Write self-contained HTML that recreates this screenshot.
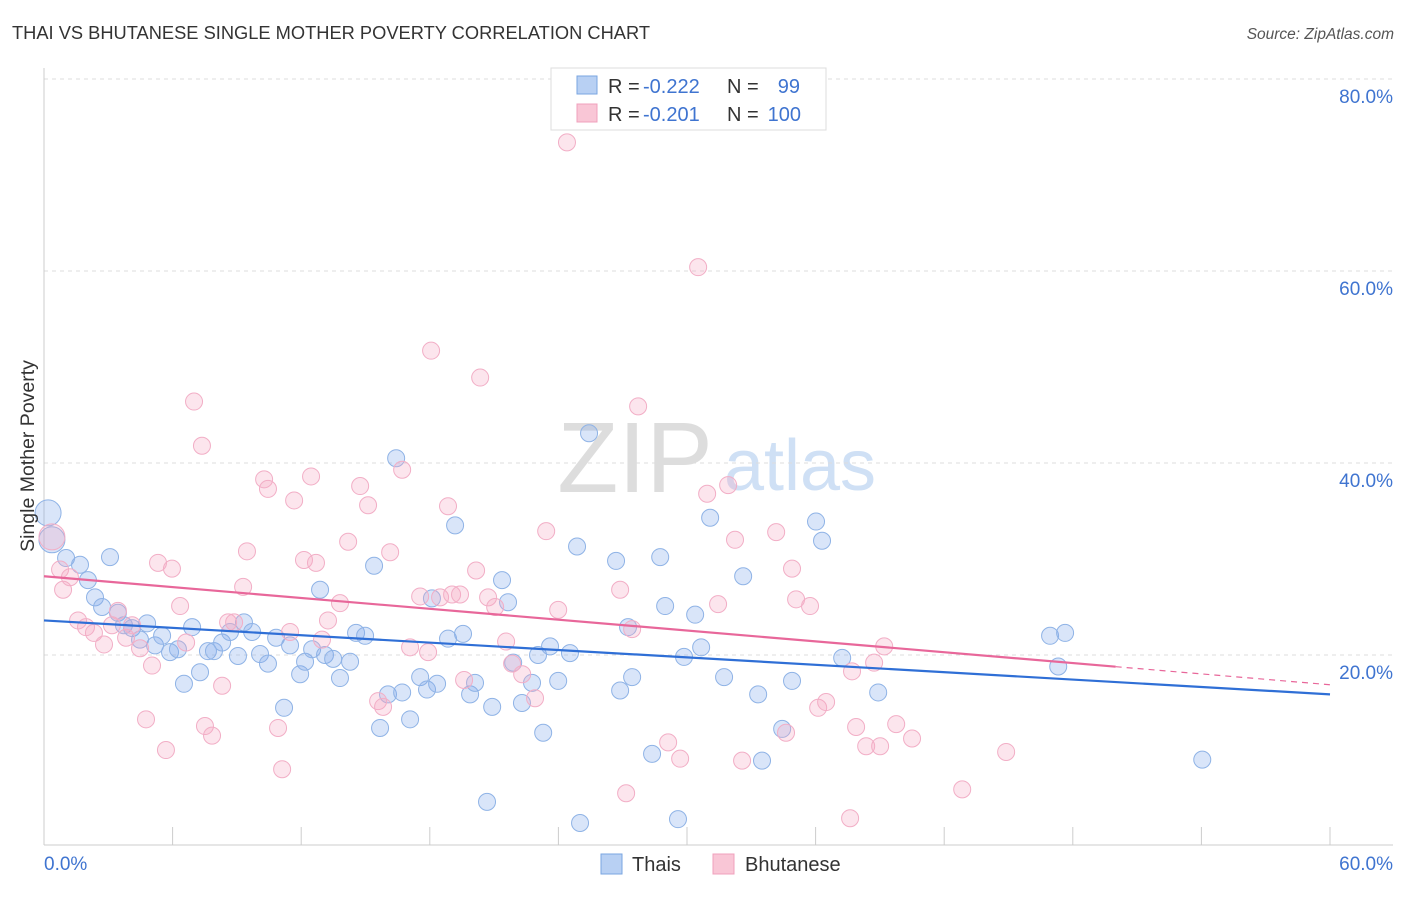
<!DOCTYPE html>
<html><head><meta charset="utf-8">
<style>
body{margin:0;background:#fff;font-family:"Liberation Sans",sans-serif;}
svg text{font-family:"Liberation Sans",sans-serif;}
</style></head>
<body>
<svg id="chart" width="1406" height="892" xmlns="http://www.w3.org/2000/svg">
<text x="12" y="39" font-size="18" fill="#333" textLength="638" lengthAdjust="spacingAndGlyphs">THAI VS BHUTANESE SINGLE MOTHER POVERTY CORRELATION CHART</text>
<text x="1394" y="39" font-size="15.5" fill="#555" font-style="italic" text-anchor="end">Source: ZipAtlas.com</text>
<g>
<text x="635" y="492" font-size="100" fill="#ddd" font-family="Liberation Serif" text-anchor="middle">ZIP</text>
<text x="800" y="490" font-size="72" fill="#cfe0f5" text-anchor="middle">atlas</text>
</g>
<g id="grid"></g>
<g id="axes"></g>
<g id="pts-blue"></g>
<g id="pts-pink"></g>
<g id="trends"></g>
<text transform="translate(34,456) rotate(-90)" font-size="19.5" fill="#333" text-anchor="middle">Single Mother Poverty</text>
<g>
<rect x="551" y="68" width="275" height="62" fill="#fff" stroke="#ddd"/>
<rect x="577" y="76" width="20" height="18" fill="#b8d0f3" stroke="#7aa6e0"/>
<rect x="577" y="104" width="20" height="18" fill="#f9c6d6" stroke="#f0a0bc"/>
<text x="608" y="93" font-size="20" fill="#333">R =</text>
<text x="643" y="93" font-size="20" fill="#3f74d0">-0.222</text>
<text x="727" y="93" font-size="20" fill="#333">N =</text>
<text x="800" y="93" font-size="20" fill="#3f74d0" text-anchor="end">99</text>
<text x="608" y="121" font-size="20" fill="#333">R =</text>
<text x="643" y="121" font-size="20" fill="#3f74d0">-0.201</text>
<text x="727" y="121" font-size="20" fill="#333">N =</text>
<text x="801" y="121" font-size="20" fill="#3f74d0" text-anchor="end">100</text>
</g>
<g>
<rect x="601" y="854" width="21" height="20" fill="#b8d0f3" stroke="#7aa6e0"/>
<text x="632" y="871" font-size="20" fill="#333">Thais</text>
<rect x="713" y="854" width="21" height="20" fill="#f9c6d6" stroke="#f0a0bc"/>
<text x="745" y="871" font-size="20" fill="#333">Bhutanese</text>
</g>
</svg>
<script>
const xTicks=[0,6,12,18,24,30,36,42,48,54,60];
const yTicks=[20,40,60,80];
const yTickLabels=["20.0%","40.0%","60.0%","80.0%"];
const xEndLabels=["0.0%","60.0%"];
const thaiX=[0.19,0.37,1.03,1.68,2.05,2.38,2.71,3.08,3.45,3.73,4.11,4.48,4.81,5.18,5.51,5.88,6.25,6.53,6.91,7.28,7.65,7.93,8.31,8.68,9.05,9.33,9.71,10.08,10.45,10.83,11.2,11.48,11.95,12.18,12.51,12.88,13.11,13.49,13.81,14.28,14.56,14.98,15.4,15.68,16.05,16.43,16.71,17.08,17.55,17.87,18.1,18.34,18.85,19.18,19.55,19.88,20.11,20.67,20.91,21.37,21.65,21.89,22.3,22.77,23.05,23.29,23.61,23.99,24.54,24.87,25.01,25.43,26.69,26.88,27.25,27.44,28.37,28.75,28.98,29.58,29.86,30.38,30.66,31.08,31.73,32.62,33.32,33.5,34.44,34.9,36.02,36.3,37.24,38.92,46.94,47.32,47.64,54.04];
const thaiY=[34.8,32.0,30.1,29.4,27.8,26.0,25.0,30.2,24.4,23.1,22.8,21.6,23.3,21.0,22.0,20.3,20.6,17.0,22.9,18.2,20.4,20.4,21.3,22.4,19.9,23.4,22.4,20.1,19.1,21.8,14.5,21.0,18.0,19.3,20.6,26.8,20.0,19.6,17.6,19.3,22.3,22.0,29.3,12.4,15.9,40.5,16.1,13.3,17.7,16.4,25.9,17.0,21.7,33.5,22.2,15.9,17.1,4.7,14.6,27.8,25.5,19.2,15.0,17.1,20.0,11.9,20.9,17.3,20.2,31.3,2.5,43.1,29.8,16.3,22.9,17.7,9.7,30.2,25.1,2.9,19.8,24.2,20.8,34.3,17.7,28.2,15.9,9.0,12.3,17.3,33.9,31.9,19.7,16.1,22.0,18.8,22.3,9.1];
const bhuX=[0.37,0.75,0.89,1.21,1.59,1.96,2.33,2.8,3.17,3.45,3.83,4.11,4.48,4.76,5.04,5.32,5.69,5.97,6.35,6.63,7.0,7.37,7.51,7.84,8.31,8.59,8.87,9.29,9.47,10.27,10.45,10.92,11.11,11.48,11.67,12.13,12.46,12.69,12.97,13.25,13.81,14.19,14.75,15.12,15.59,15.82,16.15,16.71,17.08,17.55,17.92,18.06,18.48,18.85,19.04,19.41,19.6,20.16,20.35,20.72,21.05,21.56,21.84,22.31,22.91,23.43,23.99,24.4,26.88,27.16,27.44,27.72,29.12,29.68,30.52,30.94,31.45,31.92,32.24,32.57,34.16,34.62,34.9,35.09,35.74,36.12,36.49,37.61,37.7,37.89,38.36,39.01,38.73,39.2,39.76,40.5,42.84,44.89];
const bhuY=[32.3,28.9,26.8,28.1,23.6,22.9,22.3,21.1,23.1,24.6,21.8,23.1,20.7,13.3,18.9,29.6,10.1,29.0,25.1,21.3,46.4,41.8,12.6,11.6,16.8,23.4,23.4,27.1,30.8,38.3,37.3,12.4,8.1,22.4,36.1,29.9,38.6,29.6,21.6,23.6,25.4,31.8,37.6,35.6,15.2,14.6,30.7,39.3,20.8,26.1,20.3,51.7,26.0,35.5,26.3,26.3,17.4,28.8,48.9,26.0,25.0,21.4,19.1,18.0,15.5,32.9,24.7,73.4,26.8,5.6,22.7,45.9,10.9,9.2,60.4,36.8,25.3,37.7,32.0,9.0,32.8,11.9,29.0,25.8,25.1,14.5,15.1,3.0,18.3,12.5,10.5,10.5,19.2,20.9,12.8,11.3,6.0,9.9];
const thaiTrend=[23.6,15.9];
const bhuTrend=[28.2,16.9];
const bhuSolidEnd=50;

const NS="http://www.w3.org/2000/svg";
function sx(v){return 44+v/60*1286;}
function sy(v){return 847-v/20*192;}
function mk(tag,attrs,parent){const e=document.createElementNS(NS,tag);for(const k in attrs)e.setAttribute(k,attrs[k]);parent.appendChild(e);return e;}
const grid=document.getElementById('grid'),axes=document.getElementById('axes');
yTicks.forEach((t,i)=>{
  const l=mk('line',{x1:44,x2:1393,y1:sy(t),y2:sy(t),stroke:'#ddd','stroke-dasharray':'4,4'},grid);
  
  
  const tx=mk('text',{x:1393,y:sy(t)+24,'font-size':19,fill:'#3f74d0','text-anchor':'end'},axes);
  tx.textContent=yTickLabels[i];
  
  
});
mk('line',{x1:44,x2:44,y1:68,y2:845,stroke:'#ccc'},axes);
mk('line',{x1:44,x2:1393,y1:845,y2:845,stroke:'#ccc'},axes);
xTicks.forEach(t=>{
  const l=mk('line',{x1:sx(t),x2:sx(t),y1:827,y2:845,stroke:'#ccc'},axes);
  
  
});
const xl0=mk('text',{x:44,y:870,'font-size':19,fill:'#3f74d0'},axes);xl0.textContent=xEndLabels[0];


const xl1=mk('text',{x:1393,y:870,'font-size':19,fill:'#3f74d0','text-anchor':'end'},axes);xl1.textContent=xEndLabels[1];


function pts(xs,ys,g,fill,stroke,name){
  xs.forEach((x,i)=>{
    const r=(x<0.5)?13:8.5;
    const c=mk('circle',{cx:sx(x),cy:sy(ys[i]),r:r,fill:fill,stroke:stroke,'stroke-width':1},g);
    
    
  });
}
pts(thaiX,thaiY,document.getElementById('pts-blue'),'rgba(130,170,235,0.3)','#8fb3e6','thai-point');
pts(bhuX,bhuY,document.getElementById('pts-pink'),'rgba(245,170,195,0.3)','#f2aec6','bhutanese-point');
const tr=document.getElementById('trends');
const t1=mk('line',{x1:sx(0),y1:sy(thaiTrend[0]),x2:sx(60),y2:sy(thaiTrend[1]),stroke:'#2f6fd6','stroke-width':2.2},tr);


const bm=bhuTrend[0]+(bhuTrend[1]-bhuTrend[0])*bhuSolidEnd/60;
const t2=mk('line',{x1:sx(0),y1:sy(bhuTrend[0]),x2:sx(bhuSolidEnd),y2:sy(bm),stroke:'#e8679a','stroke-width':2.2},tr);


const t3=mk('line',{x1:sx(bhuSolidEnd),y1:sy(bm),x2:sx(60),y2:sy(bhuTrend[1]),stroke:'#e8679a','stroke-width':1.2,'stroke-dasharray':'6,5'},tr);


</script>
</body></html>
